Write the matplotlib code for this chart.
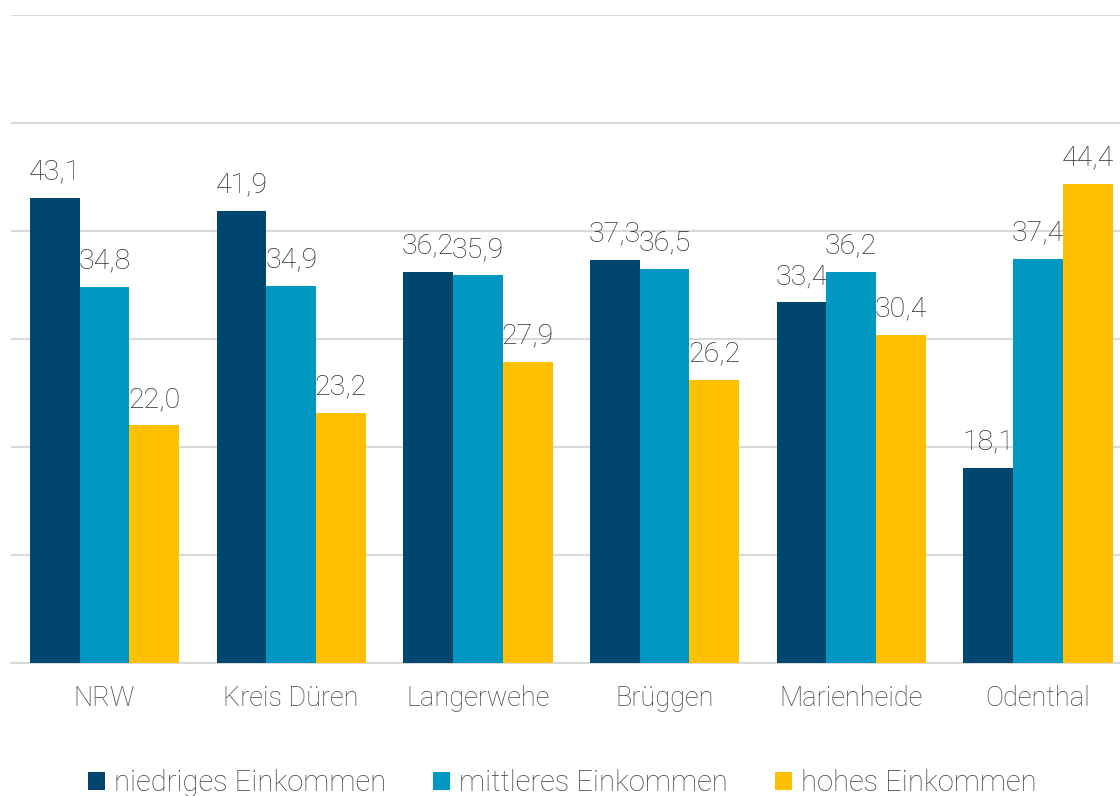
import numpy as np
import matplotlib.pyplot as plt
from matplotlib.patches import Patch

plt.rcParams['font.family'] = ['Roboto', 'DejaVu Sans']

orte = ['NRW', 'Kreis Düren', 'Langerwehe', 'Brüggen', 'Marienheide', 'Odenthal']
niedrig = [43.1, 41.9, 36.2, 37.3, 33.4, 18.1]
mittel = [34.8, 34.9, 35.9, 36.5, 36.2, 37.4]
hoch = [22.0, 23.2, 27.9, 26.2, 30.4, 44.4]
serien = ['niedriges Einkommen', 'mittleres Einkommen', 'hohes Einkommen']
farben = ['#00466E', '#0098C3', '#FFC000']

fig = plt.figure(figsize=(11.2, 7.96), dpi=100)
ax = fig.add_axes([0.01, 0.167, 1.0, 0.814])

x = np.arange(len(orte))
w = 0.8 / 3
for i, (werte, farbe) in enumerate(zip([niedrig, mittel, hoch], farben)):
    pos = x + (i - 1) * w
    ax.bar(pos, werte, width=w, color=farbe, zorder=3)
    for px, v in zip(pos, werte):
        ax.annotate(f'{v:.1f}'.replace('.', ','), (px, v), xytext=(0, 9),
                    textcoords='offset points', ha='center', va='bottom',
                    fontsize=20.5, color='#2e2e2e', fontweight='light')

ax.set_xlim(-0.5, len(orte) - 0.5)
ax.set_ylim(0, 60)
ax.set_yticks(np.arange(10, 61, 10))
ax.yaxis.grid(True, color='#d9d9d9', linewidth=1.5, zorder=0)
ax.tick_params(axis='y', left=False, labelleft=False)
ax.tick_params(axis='x', bottom=False, pad=12)
ax.set_xticks(x)
ax.set_xticklabels(orte, fontsize=19.5, color='#444444', fontweight='light')
for s in ['top', 'left', 'right']:
    ax.spines[s].set_visible(False)
ax.spines['bottom'].set_color('#d9d9d9')
ax.spines['bottom'].set_linewidth(1.5)

handles = [Patch(facecolor=f, edgecolor='none') for f in farben]
leg = fig.legend(handles, serien, loc='center', bbox_to_anchor=(0.502, 0.016),
                 ncol=3, frameon=False, fontsize=21, handlelength=0.6,
                 handleheight=0.6, handletextpad=0.3, columnspacing=1.6)
for t in leg.get_texts():
    t.set_color('#444444')
    t.set_fontweight('light')

fig.savefig('out.png', dpi=100)
